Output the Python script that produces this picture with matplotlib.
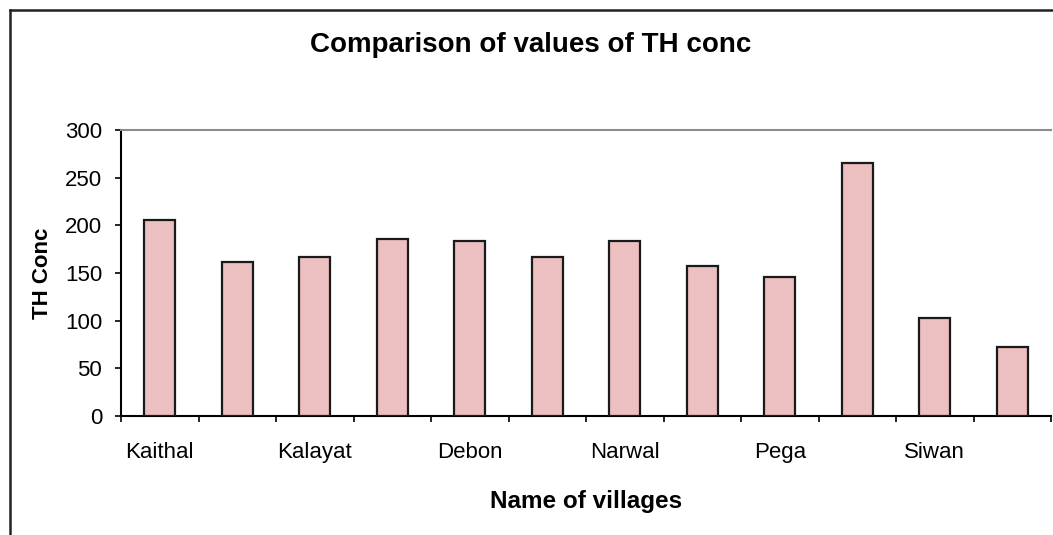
import matplotlib.pyplot as plt
from matplotlib.lines import Line2D
import numpy as np

# TH concentration per village (12 sampling sites, every other one labelled)
th_conc = [206, 162, 167, 186, 184, 167, 184, 157, 146, 265, 103, 72]
village_labels = ['Kaithal', 'Kalayat', 'Debon', 'Narwal', 'Pega', 'Siwan']
label_pos = [0, 2, 4, 6, 8, 10]
y_ticks = [0, 50, 100, 150, 200, 250, 300]

plt.rcParams['font.family'] = ['Liberation Sans', 'DejaVu Sans']

fig = plt.figure(figsize=(10.53, 5.35), dpi=100)
ax = fig.add_axes([121 / 1053, 1 - 416 / 535, 930 / 1053, 286 / 535])

x = np.arange(len(th_conc))
ax.bar(x, th_conc, width=0.4, color='#ecbfc0', edgecolor='#1a1a1a', linewidth=1.6, zorder=3)

ax.set_xlim(-0.5, len(th_conc) - 0.5)
ax.set_ylim(0, 300)
ax.set_yticks(y_ticks)
ax.tick_params(axis='y', labelsize=16, length=4.5, width=1.2, pad=9, direction='out')

# ticks between categories, labels under every other bar
ax.set_xticks(np.arange(-0.5, len(th_conc), 1.0))
ax.set_xticklabels([])
ax.tick_params(axis='x', which='major', length=4.5, width=1.2, direction='out')
ax.set_xticks(label_pos, minor=True)
ax.set_xticklabels(village_labels, minor=True)
ax.tick_params(axis='x', which='minor', length=0, labelsize=16, pad=19)

ax.spines['left'].set_linewidth(1.5)
ax.spines['bottom'].set_linewidth(1.5)
ax.spines['top'].set_color('#8c8c8c')
ax.spines['top'].set_linewidth(1.5)
ax.spines['right'].set_visible(False)

ax.set_ylabel('TH Conc', fontsize=16, fontweight='bold', labelpad=9)
ax.set_xlabel('Name of villages', fontsize=17.5, fontweight='bold', labelpad=19)

fig.text(531 / 1053, 1 - 45 / 535, 'Comparison of values of TH conc',
         ha='center', va='center', fontsize=20, fontweight='bold')

# outer chart border (only left and top edges fall inside the picture)
fig.add_artist(Line2D([10 / 1053, 10 / 1053], [0, 1 - 10 / 535], transform=fig.transFigure,
                      color='#222222', linewidth=1.8))
fig.add_artist(Line2D([10 / 1053, 1], [1 - 10 / 535, 1 - 10 / 535], transform=fig.transFigure,
                      color='#222222', linewidth=1.8))

fig.savefig('out.png', dpi=100)
